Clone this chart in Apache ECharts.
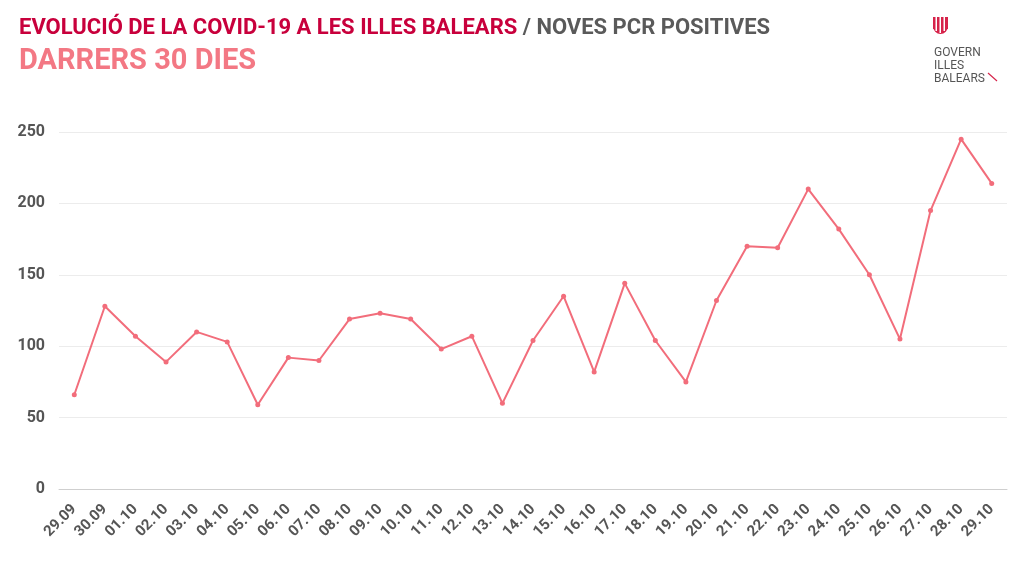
<!DOCTYPE html>
<html><head><meta charset="utf-8">
<script src="https://cdn.jsdelivr.net/npm/echarts@6/dist/echarts.min.js"></script>
<style>html,body{margin:0;padding:0;background:#fff}#c{width:1024px;height:576px}</style>
</head><body><div id="c"></div>
<script>
const categories = ["29.09","30.09","01.10","02.10","03.10","04.10","05.10","06.10","07.10","08.10","09.10","10.10","11.10","12.10","13.10","14.10","15.10","16.10","17.10","18.10","19.10","20.10","21.10","22.10","23.10","24.10","25.10","26.10","27.10","28.10","29.10"];
const pcrPositives = [66,128,107,89,110,103,59,92,90,119,123,119,98,107,60,104,135,82,144,104,75,132,170,169,210,182,150,105,195,245,214];
const titleMain = "EVOLUCIÓ DE LA COVID-19 A LES ILLES BALEARS";
const titleSub = " / NOVES PCR POSITIVES";
const subtitle = "DARRERS 30 DIES";
const logoLines = ["GOVERN","ILLES","BALEARS"];

const chart = echarts.init(document.getElementById('c'));
const font = 'Roboto, "DejaVu Sans", sans-serif';
chart.setOption({
  backgroundColor: '#fff',
  animation: false,
  title: {
    left: 14, top: 12,
    text: '{a|' + titleMain + '}{b|' + titleSub + '}',
    subtext: subtitle,
    itemGap: 8,
    textStyle: { rich: {
      a: { fontFamily: font, fontWeight: 'bold', fontSize: 22, color: '#c8003c' },
      b: { fontFamily: font, fontWeight: 'bold', fontSize: 22, color: '#5a5a5a' }
    }},
    subtextStyle: { fontFamily: font, fontWeight: 'bold', fontSize: 29, color: '#f37884' }
  },
  grid: { left: 59, right: 17, top: 132, bottom: 87, containLabel: false },
  xAxis: {
    type: 'category', data: categories, boundaryGap: true,
    axisLine: { lineStyle: { color: '#cfcfcf', width: 1 } },
    axisTick: { show: false },
    axisLabel: { rotate: 45, interval: 0, color: '#555', fontFamily: font, fontWeight: 'bold', fontSize: 15, margin: 18 }
  },
  yAxis: {
    type: 'value', min: 0, max: 250, interval: 50,
    axisLine: { show: false }, axisTick: { show: false },
    splitLine: { lineStyle: { color: '#ececec', width: 1 } },
    axisLabel: { color: '#555', fontFamily: font, fontWeight: 'bold', fontSize: 16, margin: 14 }
  },
  series: [{
    type: 'line', data: pcrPositives,
    symbol: 'circle', symbolSize: 5,
    lineStyle: { color: '#f26d7b', width: 2 },
    itemStyle: { color: '#f26d7b' }
  }],
  graphic: [
    { type: 'group', left: 933, top: 17, children: [
      { type: 'rect', shape: { x: 0, y: 0, width: 15, height: 12 }, style: { fill: '#d6234a' } },
      { type: 'circle', shape: { cx: 7.5, cy: 9.5, r: 7.5 }, style: { fill: '#d6234a' } },
      { type: 'rect', shape: { x: 2.5, y: 0, width: 1.5, height: 14 }, style: { fill: '#fff' } },
      { type: 'rect', shape: { x: 6.5, y: 0, width: 1.5, height: 16 }, style: { fill: '#fff' } },
      { type: 'rect', shape: { x: 10.5, y: 0, width: 1.5, height: 14 }, style: { fill: '#fff' } }
    ]},
    { type: 'text', left: 934, top: 46, style: { text: logoLines.join('\n'), fill: '#555', font: '12px ' + font, lineHeight: 13 } },
    { type: 'line', shape: { x1: 988, y1: 73, x2: 997, y2: 81 }, style: { stroke: '#d6234a', lineWidth: 1.2 } }
  ]
});
</script></body></html>
